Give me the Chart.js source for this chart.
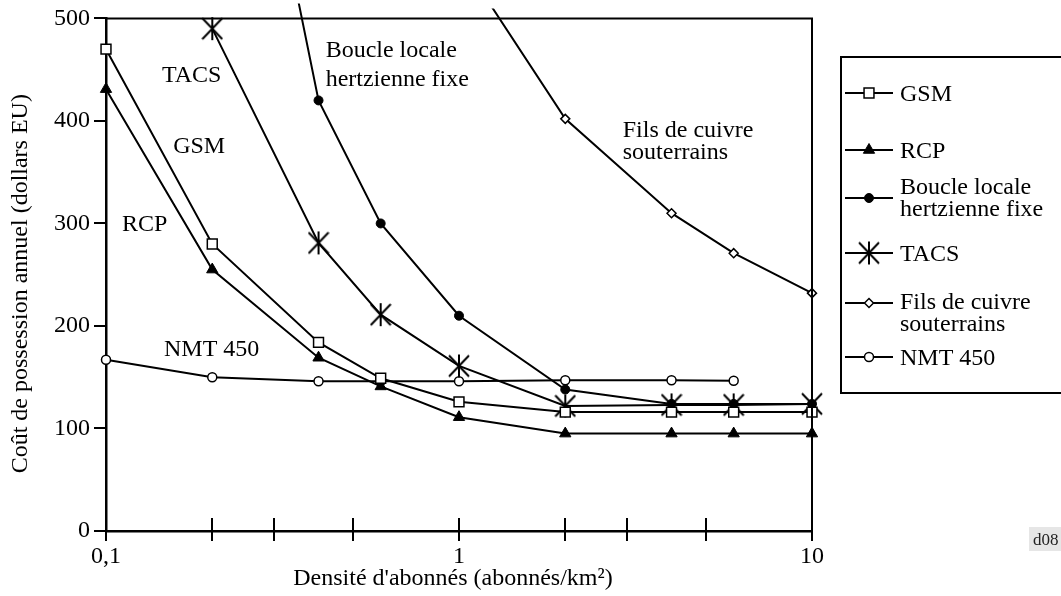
<!DOCTYPE html>
<html><head><meta charset="utf-8">
<script src="https://cdn.jsdelivr.net/npm/chart.js@4.4.1/dist/chart.umd.min.js"></script>
<style>html,body{margin:0;padding:0;background:#fff;}canvas{display:block;}</style>
</head><body>
<canvas id="c" width="1061" height="596"></canvas>
<script>
// ---- data ----
const densities = [0.1, 0.2, 0.4, 0.6, 1, 2, 4, 6, 10];
const gsm    = [470, 280, 184, 149, 126, 116, 116, 116, 116];
const rcp    = [431, 255, 169, 141, 111, 95, 95, 95, 95];
const boucle = [null, 930, 420, 300, 210, 138, 124, 124, 124];
const tacs   = [null, 490, 281, 211, 161, 122, 123, 123, 124];
const fils   = [null, null, null, null, 560, 402, 310, 271, 232];
const nmt    = [167, 150, 146, 146, 146, 147, 147, 146.5, null];

const seriesNames = ['GSM', 'RCP', 'Boucle locale hertzienne fixe', 'TACS', 'Fils de cuivre souterrains', 'NMT 450'];
const legendLines = [['GSM'], ['RCP'], ['Boucle locale', 'hertzienne fixe'], ['TACS'], ['Fils de cuivre', 'souterrains'], ['NMT 450']];

const xTickValues = [0.1, 1, 10];
const xTickLabels = ['0,1', '1', '10'];
const xMinorMarks = [0.1, 0.2, 0.3, 0.5, 1, 2, 3, 5, 10];
const yTickValues = [0, 100, 200, 300, 400, 500];

const noteText = ['TACS', 'GSM', 'RCP', 'NMT 450', 'Boucle locale', 'hertzienne fixe', 'Fils de cuivre', 'souterrains'];
const noteX    = [0.144, 0.155, 0.111, 0.146, 0.419, 0.419, 2.91, 2.91];
const noteY    = [438, 369, 293, 171, 462, 434, 384, 363];

const xTitle = "Densité d'abonnés (abonnés/km²)";
const yTitle = 'Coût de possession annuel (dollars EU)';

// ---- styles ----
const FONT = "'Liberation Serif', 'Times New Roman', serif";
const FS = 24;
function makeAsterisk(w, h, lw) {
  const c = document.createElement('canvas');
  c.width = w; c.height = h;
  const g = c.getContext('2d');
  g.strokeStyle = '#000'; g.lineWidth = lw;
  g.beginPath();
  g.moveTo(w / 2, 1); g.lineTo(w / 2, h - 1);
  g.moveTo(1, 2); g.lineTo(w - 1, h - 2);
  g.moveTo(w - 1, 2); g.lineTo(1, h - 2);
  g.stroke();
  return c;
}
const asterisk = makeAsterisk(22, 25, 2);

function pts(arr) { return densities.map((d, i) => ({x: d, y: arr[i]})); }
function ds(label, arr, style, radius, bg, bw, clipTop) {
  return {
    label, data: pts(arr), borderColor: '#000', borderWidth: 2, tension: 0,
    pointStyle: style, pointRadius: radius, pointBackgroundColor: bg,
    pointBorderColor: '#000', pointBorderWidth: bw, spanGaps: false,
    clip: {left: 15, top: clipTop, right: 15, bottom: 15}
  };
}
const datasets = [
  ds(seriesNames[0], gsm, 'rect', 7, '#fff', 1.5, 15),
  ds(seriesNames[1], rcp, 'triangle', 6.5, '#000', 1, 15),
  ds(seriesNames[2], boucle, 'circle', 4.5, '#000', 1, 15),
  ds(seriesNames[3], tacs, asterisk, 11, '#000', 2, 15),
  ds(seriesNames[4], fils, 'rectRot', 4.5, '#fff', 1.5, 10),
  ds(seriesNames[5], nmt, 'circle', 4.5, '#fff', 1.5, 15)
];

const framePlugin = {
  id: 'frame',
  afterDraw(chart) {
    const ctx = chart.ctx, a = chart.chartArea, xs = chart.scales.x;
    ctx.save();
    ctx.strokeStyle = '#000';
    ctx.lineWidth = 2;
    ctx.beginPath();
    ctx.moveTo(a.left, a.top); ctx.lineTo(a.right, a.top); ctx.lineTo(a.right, a.bottom);
    ctx.stroke();
    xMinorMarks.forEach(v => {
      const px = Math.round(xs.getPixelForValue(v));
      ctx.beginPath();
      ctx.moveTo(px, a.bottom - 13); ctx.lineTo(px, a.bottom + 10);
      ctx.stroke();
    });
    // legend
    ctx.strokeRect(841, 57, 240, 336);
    const rows = [93, 150, 198, 253, 303, 357];
    const dy = [[8], [8], [-4, 18], [8], [6, 28], [8]];
    chart.data.datasets.forEach((d, i) => {
      const y = rows[i];
      ctx.strokeStyle = '#000'; ctx.lineWidth = 2;
      ctx.beginPath(); ctx.moveTo(845, y); ctx.lineTo(893, y); ctx.stroke();
      ctx.fillStyle = d.pointBackgroundColor; ctx.lineWidth = d.pointBorderWidth;
      Chart.helpers.drawPoint(ctx, {pointStyle: d.pointStyle, radius: d.pointRadius, rotation: 0, borderWidth: d.pointBorderWidth}, 869, y);
      ctx.fillStyle = '#000';
      ctx.font = FS + 'px ' + FONT; ctx.textAlign = 'left'; ctx.textBaseline = 'alphabetic';
      legendLines[i].forEach((t, j) => ctx.fillText(t, 900, y + dy[i][j]));
    });
    // corner code
    ctx.fillStyle = '#e6e6e6';
    ctx.fillRect(1029, 527, 40, 24);
    ctx.fillStyle = '#222';
    ctx.font = '17px ' + FONT;
    ctx.fillText('d08', 1033, 545);
    ctx.restore();
  }
};

const notesPlugin = {
  id: 'notes',
  afterDatasetsDraw(chart) {
    const ctx = chart.ctx, xs = chart.scales.x, ys = chart.scales.y;
    ctx.save();
    ctx.fillStyle = '#000';
    ctx.font = FS + 'px ' + FONT; ctx.textAlign = 'left'; ctx.textBaseline = 'alphabetic';
    noteText.forEach((t, i) => ctx.fillText(t, xs.getPixelForValue(noteX[i]), ys.getPixelForValue(noteY[i])));
    ctx.restore();
  }
};

new Chart(document.getElementById('c'), {
  type: 'line',
  data: {datasets},
  plugins: [notesPlugin, framePlugin],
  options: {
    responsive: false, animation: false, events: [], devicePixelRatio: 1,
    layout: {padding: {top: 18, right: 249, bottom: 0, left: 0}},
    plugins: {legend: {display: false}, tooltip: {enabled: false}},
    scales: {
      x: {
        type: 'logarithmic', min: 0.1, max: 10,
        afterFit: s => { s.height = 65; },
        afterBuildTicks: s => { s.ticks = xTickValues.map(v => ({value: v})); },
        grid: {display: false, drawTicks: false},
        border: {display: true, color: '#000', width: 2.5},
        ticks: {autoSkip: false, maxRotation: 0, padding: 11, color: '#000',
          font: {family: FONT, size: FS},
          callback: (v, i) => xTickLabels[i]},
        title: {display: true, text: xTitle + '  ', color: '#000', font: {family: FONT, size: FS}, padding: {top: 0, bottom: 3}}
      },
      y: {
        type: 'linear', min: 0, max: 500,
        afterFit: s => { s.width = 106; },
        afterBuildTicks: s => { s.ticks = yTickValues.map(v => ({value: v})); },
        grid: {display: true, drawOnChartArea: false, drawTicks: true, tickLength: 12, color: '#000', lineWidth: 2},
        border: {display: true, color: '#000', width: 2.5},
        ticks: {padding: 4, color: '#000', font: {family: FONT, size: FS}},
        title: {display: true, text: yTitle + '   ', color: '#000', font: {family: FONT, size: FS}, padding: {top: 6, bottom: 0}}
      }
    }
  }
});
</script>
</body></html>
